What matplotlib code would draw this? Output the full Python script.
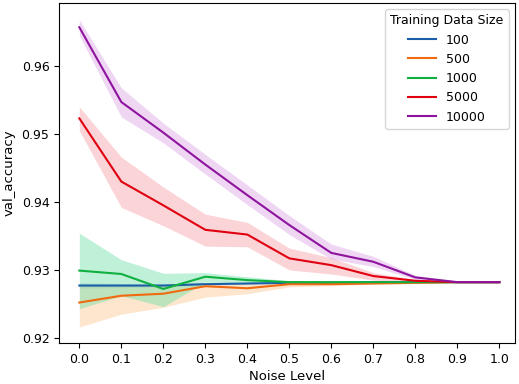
import matplotlib
matplotlib.use("Agg")
import matplotlib.pyplot as plt
import numpy as np

noise = [0.0, 0.1, 0.2, 0.3, 0.4, 0.5, 0.6, 0.7, 0.8, 0.9, 1.0]
sizes = ["100", "500", "1000", "5000", "10000"]

mean_100 = [0.9277, 0.9277, 0.9277, 0.9279, 0.9280, 0.9281, 0.9281, 0.9282, 0.9282, 0.9282, 0.9282]
lo_100 = [0.9273, 0.9274, 0.9275, 0.9277, 0.9279, 0.9280, 0.9281, 0.9281, 0.9282, 0.9282, 0.9282]
hi_100 = [0.9281, 0.9280, 0.9279, 0.9281, 0.9281, 0.9282, 0.9282, 0.9283, 0.9282, 0.9282, 0.9282]

mean_500 = [0.9252, 0.9262, 0.9265, 0.9276, 0.9273, 0.9279, 0.9279, 0.9280, 0.9281, 0.9282, 0.9282]
lo_500 = [0.9216, 0.9235, 0.9245, 0.9260, 0.9265, 0.9275, 0.9277, 0.9279, 0.9280, 0.9282, 0.9282]
hi_500 = [0.9278, 0.9278, 0.9279, 0.9281, 0.9281, 0.9281, 0.9281, 0.9281, 0.9282, 0.9282, 0.9282]

mean_1000 = [0.9299, 0.9294, 0.9272, 0.9290, 0.9285, 0.9282, 0.9282, 0.9282, 0.9282, 0.9282, 0.9282]
lo_1000 = [0.9243, 0.9262, 0.9246, 0.9282, 0.9281, 0.9280, 0.9281, 0.9281, 0.9282, 0.9282, 0.9282]
hi_1000 = [0.9354, 0.9315, 0.9295, 0.9296, 0.9290, 0.9284, 0.9283, 0.9283, 0.9282, 0.9282, 0.9282]

mean_5000 = [0.9523, 0.9430, 0.9395, 0.9359, 0.9352, 0.9317, 0.9307, 0.9291, 0.9284, 0.9282, 0.9282]
lo_5000 = [0.9505, 0.9392, 0.9365, 0.9335, 0.9334, 0.9300, 0.9294, 0.9285, 0.9282, 0.9282, 0.9282]
hi_5000 = [0.9540, 0.9466, 0.9422, 0.9382, 0.9370, 0.9332, 0.9318, 0.9296, 0.9286, 0.9283, 0.9282]

mean_10000 = [0.9657, 0.9547, 0.9502, 0.9455, 0.9410, 0.9366, 0.9325, 0.9312, 0.9289, 0.9282, 0.9282]
lo_10000 = [0.9645, 0.9525, 0.9487, 0.9441, 0.9396, 0.9352, 0.9316, 0.9305, 0.9286, 0.9282, 0.9282]
hi_10000 = [0.9668, 0.9568, 0.9516, 0.9470, 0.9425, 0.9380, 0.9338, 0.9320, 0.9292, 0.9283, 0.9282]

means = [mean_100, mean_500, mean_1000, mean_5000, mean_10000]
los = [lo_100, lo_500, lo_1000, lo_5000, lo_10000]
his = [hi_100, hi_500, hi_1000, hi_5000, hi_10000]
line_colors = ["#1a5fa8", "#f06a10", "#10b040", "#e00010", "#8e149e"]
fill_colors = ["#9fbde0", "#fcc890", "#6fe0a8", "#f8a0a8", "#dca8e8"]

fig = plt.figure(figsize=(5.19, 3.84), dpi=100)
ax = fig.add_axes([0.114, 0.107, 0.878, 0.885])

for lab, m, lo, hi, lc, fc in zip(sizes, means, los, his, line_colors, fill_colors):
    ax.fill_between(noise, lo, hi, color=fc, alpha=0.45, linewidth=0)
    ax.plot(noise, m, color=lc, linewidth=1.5, label=lab)

ax.set_xlim(-0.048, 1.037)
ax.set_ylim(0.91926, 0.96926)
ax.set_xticks(noise)
ax.set_xticklabels([f"{v:.1f}" for v in noise])
ax.set_yticks([0.92, 0.93, 0.94, 0.95, 0.96])
ax.set_xlabel("Noise Level", fontsize=9.5, labelpad=3)
ax.set_ylabel("val_accuracy", fontsize=9.5)
ax.tick_params(labelsize=9)
ax.legend(title="Training Data Size", loc="upper right", fontsize=9,
          title_fontsize=9, handlelength=2.2)

fig.savefig("out.png", dpi=100)
